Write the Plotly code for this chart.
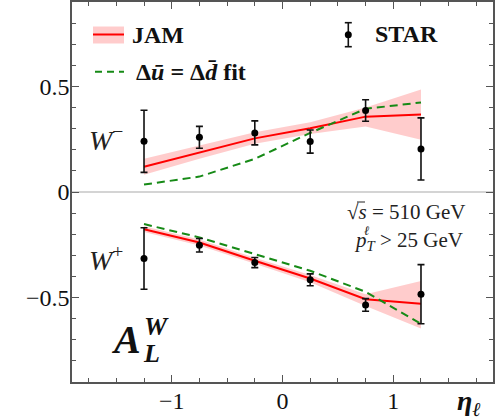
import plotly.graph_objects as go

# ---------------- data ----------------
eta = [-1.25, -0.75, -0.25, 0.25, 0.75, 1.25]

# W- (upper panel)
star_wm = [0.240, 0.259, 0.280, 0.239, 0.386, 0.204]
star_wm_err = [0.147, 0.052, 0.057, 0.055, 0.051, 0.147]
jam_wm = [0.120, 0.188, 0.254, 0.302, 0.357, 0.367]
jam_wm_lo = [0.082, 0.157, 0.228, 0.275, 0.310, 0.248]
jam_wm_hi = [0.157, 0.220, 0.283, 0.330, 0.400, 0.486]
fit_wm = [0.035, 0.073, 0.157, 0.280, 0.394, 0.424]

# W+ (lower panel)
star_wp = [-0.315, -0.252, -0.334, -0.416, -0.535, -0.484]
star_wp_err = [0.146, 0.032, 0.024, 0.028, 0.030, 0.140]
jam_wp = [-0.176, -0.239, -0.326, -0.410, -0.508, -0.529]
jam_wp_lo = [-0.190, -0.253, -0.340, -0.427, -0.540, -0.646]
jam_wp_hi = [-0.162, -0.225, -0.312, -0.393, -0.484, -0.421]
fit_wp = [-0.152, -0.215, -0.294, -0.373, -0.473, -0.624]

# ---------------- styling ----------------
W, H = 497, 419
ML, MR, MT, MB = 72, 4, 2, 37
PW, PH = W - ML - MR, H - MT - MB
FONT = "Liberation Serif"
RED = "#ff0000"
BAND = "rgba(255,0,0,0.2)"
GREEN = "#168a16"
DASH = "8px,5px"


def px(x):
    return (x - ML) / PW


def py(y):
    return (H - MB - y) / PH


fig = go.Figure()

for lo, hi, mid, fit, d, e in [
    (jam_wm_lo, jam_wm_hi, jam_wm, fit_wm, star_wm, star_wm_err),
    (jam_wp_lo, jam_wp_hi, jam_wp, fit_wp, star_wp, star_wp_err),
]:
    fig.add_trace(go.Scatter(x=eta, y=lo, mode="lines", line=dict(width=0),
                             showlegend=False, hoverinfo="skip"))
    fig.add_trace(go.Scatter(x=eta, y=hi, mode="lines", line=dict(width=0),
                             fill="tonexty", fillcolor=BAND, showlegend=False,
                             hoverinfo="skip"))
    fig.add_trace(go.Scatter(x=eta, y=mid, mode="lines",
                             line=dict(color=RED, width=2), showlegend=False))
    fig.add_trace(go.Scatter(x=eta, y=fit, mode="lines",
                             line=dict(color=GREEN, width=2, dash=DASH),
                             showlegend=False))
    fig.add_trace(go.Scatter(x=eta, y=d, mode="markers",
                             marker=dict(color="black", size=7),
                             error_y=dict(type="data", array=e, color="#111",
                                          thickness=1.6, width=3.5),
                             showlegend=False))

axis_common = dict(
    showline=True, mirror="ticks", linecolor="#555", linewidth=1.5,
    ticks="inside", ticklen=7, tickwidth=1.2, tickcolor="#555",
    showgrid=False, automargin=False,
    tickfont=dict(family=FONT, size=24, color="#111"),
)

fig.update_xaxes(range=[-1.9, 1.9], dtick=1, tick0=0, zeroline=False,
                 ticklabelstandoff=-4,
                 minor=dict(dtick=0.25, tick0=0, ticks="inside", ticklen=4,
                            tickwidth=1, tickcolor="#555", showgrid=False),
                 **axis_common)
fig.update_yaxes(range=[-0.9, 0.9], dtick=0.5, tick0=0, zeroline=True,
                 zerolinecolor="#d4d4d4", zerolinewidth=1.5,
                 ticklabelstandoff=-4,
                 minor=dict(dtick=0.1, tick0=0, ticks="inside", ticklen=4,
                            tickwidth=1, tickcolor="#555", showgrid=False),
                 **axis_common)

shapes = []
annotations = []

# ---- legend (manual) ----
shapes.append(dict(type="rect", xref="paper", yref="paper",
                   x0=px(93), x1=px(124), y0=py(43.5), y1=py(26.5),
                   fillcolor=BAND, line=dict(width=0)))
shapes.append(dict(type="line", xref="paper", yref="paper",
                   x0=px(93), x1=px(124), y0=py(34.5), y1=py(34.5),
                   line=dict(color=RED, width=2)))
annotations.append(dict(text="<b>JAM</b>", xref="paper", yref="paper",
                        x=px(130), y=py(35), xanchor="left", yanchor="middle",
                        showarrow=False, font=dict(family=FONT, size=24, color="#111")))
shapes.append(dict(type="line", xref="paper", yref="paper",
                   x0=px(95), x1=px(124), y0=py(71.7), y1=py(71.7),
                   line=dict(color=GREEN, width=2, dash="7px,5px")))
annotations.append(dict(text="<b>Δ<i>ū</i> = Δ<i>d̄</i> fit</b>", xref="paper", yref="paper",
                        x=px(134), y=py(72), xanchor="left", yanchor="middle",
                        showarrow=False, font=dict(family=FONT, size=24, color="#111")))
# STAR glyph
sx = 348.3
shapes.append(dict(type="line", xref="paper", yref="paper",
                   x0=px(sx), x1=px(sx), y0=py(22.7), y1=py(46.7),
                   line=dict(color="#111", width=1.6)))
for cy in (22.7, 46.7):
    shapes.append(dict(type="line", xref="paper", yref="paper",
                       x0=px(sx - 3.5), x1=px(sx + 3.5), y0=py(cy), y1=py(cy),
                       line=dict(color="#111", width=1.6)))
shapes.append(dict(type="circle", xref="paper", yref="paper",
                   x0=px(sx - 3.5), x1=px(sx + 3.5), y0=py(38.2), y1=py(31.2),
                   fillcolor="black", line=dict(width=0)))
annotations.append(dict(text="<b>STAR</b>", xref="paper", yref="paper",
                        x=px(373), y=py(34), xanchor="left", yanchor="middle",
                        showarrow=False, font=dict(family=FONT, size=24, color="#111")))

# ---- labels ----
annotations.append(dict(text="<i>W</i><sup>−</sup>", xref="paper", yref="paper",
                        x=px(87), y=py(138), xanchor="left", yanchor="middle",
                        showarrow=False, font=dict(family=FONT, size=28, color="#222")))
annotations.append(dict(text="<i>W</i><sup>+</sup>", xref="paper", yref="paper",
                        x=px(87), y=py(258), xanchor="left", yanchor="middle",
                        showarrow=False, font=dict(family=FONT, size=28, color="#222")))
annotations.append(dict(text="√<i>s</i> = 510 GeV", xref="paper", yref="paper",
                        x=px(345), y=py(212), xanchor="left", yanchor="middle",
                        showarrow=False, font=dict(family=FONT, size=21, color="#222")))
shapes.append(dict(type="line", xref="paper", yref="paper",
                   x0=px(357), x1=px(365), y0=py(202), y1=py(202),
                   line=dict(color="#222", width=1)))
annotations.append(dict(text="<i>p</i><sub><i>T</i></sub> > 25 GeV", xref="paper", yref="paper",
                        x=px(352), y=py(241), xanchor="left", yanchor="middle",
                        showarrow=False, font=dict(family=FONT, size=21, color="#222")))
annotations.append(dict(text="<i>ℓ</i>", xref="paper", yref="paper",
                        x=px(362), y=py(230), xanchor="left", yanchor="middle",
                        showarrow=False, font=dict(family=FONT, size=13, color="#222")))
# A_L^W
annotations.append(dict(text="<b><i>A</i></b>", xref="paper", yref="paper",
                        x=px(109), y=py(339), xanchor="left", yanchor="middle",
                        showarrow=False, font=dict(family=FONT, size=40, color="#111")))
annotations.append(dict(text="<b><i>W</i></b>", xref="paper", yref="paper",
                        x=px(142), y=py(326), xanchor="left", yanchor="middle",
                        showarrow=False, font=dict(family=FONT, size=26, color="#111")))
annotations.append(dict(text="<b><i>L</i></b>", xref="paper", yref="paper",
                        x=px(141), y=py(353), xanchor="left", yanchor="middle",
                        showarrow=False, font=dict(family=FONT, size=26, color="#111")))
# x-axis label eta_l
annotations.append(dict(text="<b><i>η</i></b><sub><b><i>ℓ</i></b></sub>", xref="paper", yref="paper",
                        x=px(455), y=py(402), xanchor="left", yanchor="middle",
                        showarrow=False, font=dict(family=FONT, size=28, color="#111")))

fig.update_layout(
    width=W, height=H,
    margin=dict(l=ML, r=MR, t=MT, b=MB),
    plot_bgcolor="white", paper_bgcolor="white",
    shapes=shapes, annotations=annotations,
    showlegend=False,
)

fig.write_html("out.html", config={"displayModeBar": False},
               post_script="document.body.style.margin='0';document.body.style.overflow='hidden';")
